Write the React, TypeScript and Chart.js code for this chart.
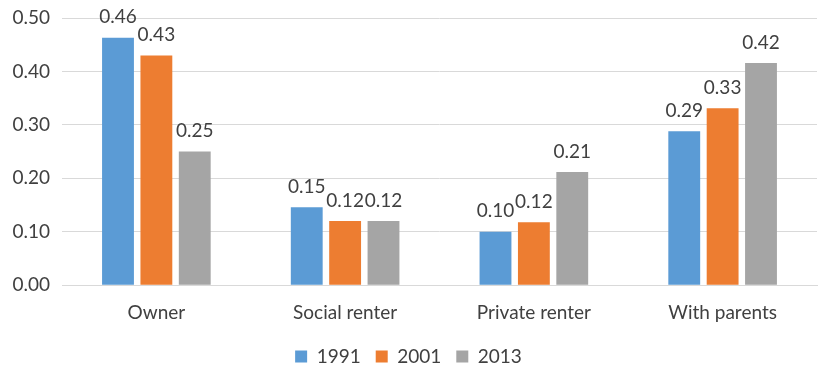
import React, { useEffect, useRef } from "react";
import { Chart, registerables } from "chart.js";

Chart.register(...registerables);

const categories = ["Owner", "Social renter", "Private renter", "With parents"];
const seriesNames = ["1991", "2001", "2013"];
const values1991 = [0.463, 0.146, 0.1, 0.288];
const values2001 = [0.43, 0.12, 0.118, 0.331];
const values2013 = [0.25, 0.12, 0.212, 0.416];
const colors = ["#5B9BD5", "#ED7D31", "#A5A5A5"];
const yTicks = [0, 0.1, 0.2, 0.3, 0.4, 0.5];

const FONT = "Lato, 'Open Sans', sans-serif";
const FS = 19;

const labelPlugin = {
  id: "barLabels",
  afterDatasetsDraw(chart: any) {
    const ctx = chart.ctx;
    ctx.save();
    ctx.font = `${FS}px ${FONT}`;
    ctx.fillStyle = "#404040";
    ctx.textAlign = "center";
    ctx.textBaseline = "bottom";
    chart.data.datasets.forEach((ds: any, i: number) => {
      const meta = chart.getDatasetMeta(i);
      meta.data.forEach((bar: any, j: number) => {
        const v = ds.data[j];
        ctx.fillText(v.toFixed(2), bar.x, bar.y - 11);
      });
    });
    ctx.restore();
  },
};

export default function App() {
  const ref = useRef<HTMLCanvasElement>(null);
  useEffect(() => {
    document.body.style.margin = "0";
    const data = [values1991, values2001, values2013];
    const chart = new Chart(ref.current!, {
      type: "bar",
      data: {
        labels: categories,
        datasets: seriesNames.map((n, i) => ({
          label: n,
          data: data[i],
          backgroundColor: colors[i],
          borderWidth: 0,
          barPercentage: 0.83,
          categoryPercentage: 0.61,
        })),
      },
      options: {
        responsive: false,
        animation: false,
        layout: { padding: { top: 18, right: 2, left: 0, bottom: 0 } },
        plugins: {
          legend: {
            position: "bottom",
            labels: {
              boxWidth: 12,
              boxHeight: 12,
              padding: 15,
              color: "#404040",
              font: { family: FONT, size: FS },
            },
          },
          tooltip: { enabled: false },
        },
        scales: {
          x: {
            grid: { display: false },
            border: { display: true, color: "#d9d9d9" },
            ticks: { color: "#404040", font: { family: FONT, size: FS }, padding: 8 },
          },
          y: {
            min: 0,
            max: 0.5,
            afterBuildTicks: (s: any) => {
              s.ticks = yTicks.map((v) => ({ value: v }));
            },
            afterFit: (s: any) => {
              s.width = 62;
              s.paddingTop = 0;
              s.paddingBottom = 0;
            },
            grid: { color: "#d9d9d9", drawTicks: false },
            border: { display: false },
            ticks: {
              color: "#404040",
              padding: 12,
              font: { family: FONT, size: FS },
              callback: (v: any) => Number(v).toFixed(2),
            },
          },
        },
      },
      plugins: [labelPlugin],
    });
    return () => chart.destroy();
  }, []);
  return (
    <div style={{ width: 819, height: 376 }}>
      <canvas ref={ref} width={819} height={376} />
    </div>
  );
}
